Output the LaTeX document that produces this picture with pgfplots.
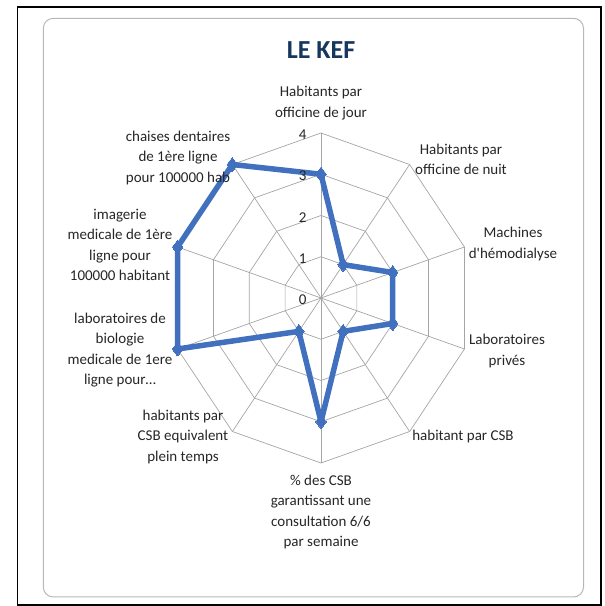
\documentclass[border=0pt]{standalone}
\usepackage{fontspec}
\setmainfont{Carlito}
\usepackage{pgfplots}
\usepackage{pgfplotstable}
\pgfplotsset{compat=1.18}

\definecolor{serie}{RGB}{65,113,190}
\definecolor{titre}{RGB}{23,55,94}
\definecolor{grille}{RGB}{165,165,165}

% angle (deg, clockwise from top) and score
\pgfplotstableread{
a v
90 3
54 1
18 2
-18 2
-54 1
-90 3
-126 1
-162 4
162 4
126 4
90 3
}\kef

\begin{document}
\begin{tikzpicture}[every node/.style={font=\fontsize{15}{20.3}\selectfont, text=black!85}]
\useasboundingbox (0,0) rectangle (605pt,606pt);
\draw[line width=1.8pt] (17.5pt,1pt) rectangle (601.3pt,599.3pt);
\draw[grille!80, line width=1pt, rounded corners=10pt] (43.3pt,9pt) rectangle (583.5pt,587.7pt);

\begin{axis}[
  hide axis,
  x=37.7pt, y=41.25pt,
  xmin=-4.5, xmax=4.5, ymin=-4.5, ymax=4.5,
  anchor=center, at={(321pt,308pt)},
  clip=false
]
  % decagon rings use the angle column only
  \pgfplotsinvokeforeach{1,2,3,4}{
    \addplot[grille, line width=0.7pt, no markers]
      table[x expr={#1*cos(\thisrow{a})}, y expr={#1*sin(\thisrow{a})}] {\kef};
  }
  \pgfplotsinvokeforeach{90,54,18,-18,-54,-90,-126,-162,162,126}{
    \draw[grille, line width=0.7pt] (axis cs:0,0) -- (axis cs:{4*cos(#1)},{4*sin(#1)});
  }
  \addplot[serie, line width=5.5pt, line join=round, mark=diamond*, mark size=7pt,
           mark options={solid, line width=0pt}]
    table[x expr={\thisrow{v}*cos(\thisrow{a})}, y expr={\thisrow{v}*sin(\thisrow{a})}] {\kef};
\end{axis}

% tick values
\node[anchor=east] at (310pt,306pt) {0};
\node[anchor=east] at (310pt,347pt) {1};
\node[anchor=east] at (310pt,388.5pt) {2};
\node[anchor=east] at (310pt,430pt) {3};
\node[anchor=east] at (310pt,471pt) {4};

\node[font=\fontsize{26}{30}\selectfont\bfseries, text=titre] at (321pt,556pt) {LE KEF};

\node[align=center] at (321pt,503pt) {Habitants par\\officine de jour};
\node[align=center] at (461pt,447pt) {Habitants par\\officine de nuit};
\node[align=center] at (513pt,362pt) {Machines\\d\textquotesingle hémodialyse};
\node[align=center] at (507pt,255pt) {Laboratoires\\privés};
\node[align=center] at (463pt,169pt) {habitant par CSB};
\node[align=center] at (321pt,94pt) {\% des CSB\\garantissant une\\consultation 6/6\\par semaine};
\node[align=center] at (183pt,169pt) {habitants par\\CSB equivalent\\plein temps};
\node[align=center] at (120pt,256pt) {laboratoires de\\biologie\\medicale de 1ere\\ligne pour\dots};
\node[align=center] at (120pt,361pt) {imagerie\\medicale de 1ère\\ligne pour\\100000 habitant};
\node[align=center] at (178pt,448pt) {chaises dentaires\\de 1ère ligne\\pour 100000 hab};
\end{tikzpicture}
\end{document}
